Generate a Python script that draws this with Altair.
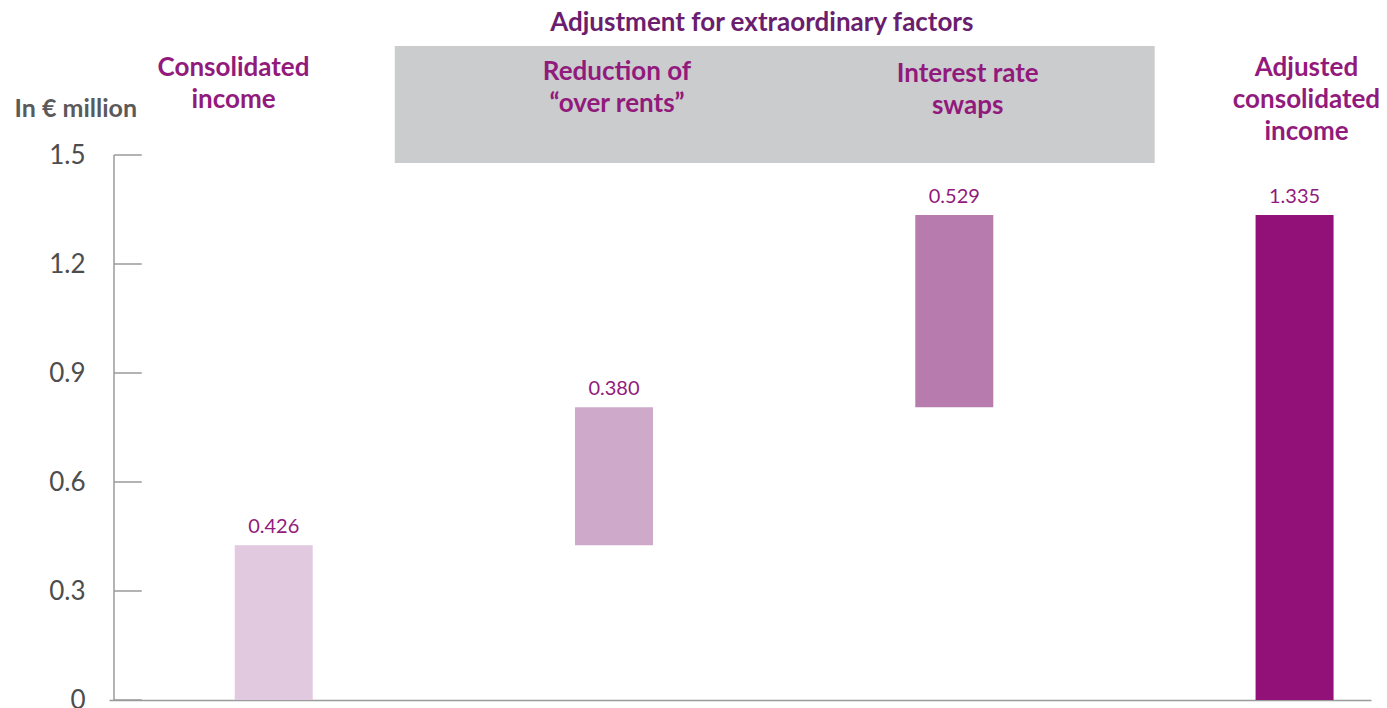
import altair as alt
import pandas as pd

# ---- data ----
categories = ["Consolidated income", "Reduction of \u201cover rents\u201d", "Interest rate swaps", "Adjusted consolidated income"]
starts = [0.0, 0.426, 0.806, 0.0]
ends = [0.426, 0.806, 1.335, 1.335]
value_labels = ["0.426", "0.380", "0.529", "1.335"]
bar_colors = ["#E1C9E0", "#CFA9CA", "#B87BAE", "#921179"]
tick_values = [0, 0.3, 0.6, 0.9, 1.2, 1.5]

header_lines = [
    ["Consolidated", "income"],
    ["Reduction of", "\u201cover rents\u201d"],
    ["Interest rate", "swaps"],
    ["Adjusted", "consolidated", "income"],
]
group_title = "Adjustment for extraordinary factors"

# ---- layout (scale units) ----
PAD_L = 101
PX_PER_Y = 545 / 1.5
PX_PER_X = 343.0
PLOT_H = 692
PLOT_W = 1262
X_MIN = -(270 - (8 + PAD_L)) / PX_PER_X
X_MAX = X_MIN + PLOT_W / PX_PER_X
Y_MAX = PLOT_H / PX_PER_Y

def ypx(py):
    return (700 - py) / PX_PER_Y

def xpx(px):
    return (px - 270) / PX_PER_X

header_x = [xpx(229.5), xpx(616), xpx(969.5), xpx(1311)]
header_y0 = [68, 72, 74, 68]
LINE_H = 32

bars = pd.DataFrame({
    "pos": list(range(len(categories))),
    "cat": categories,
    "start": starts,
    "end": ends,
    "label": value_labels,
    "color": bar_colors,
})

hdr_rows = []
for i, lines in enumerate(header_lines):
    for j, t in enumerate(lines):
        hdr_rows.append({"x": header_x[i], "y": ypx(header_y0[i] + j * LINE_H), "t": t})
hdr = pd.DataFrame(hdr_rows)

xs = alt.Scale(domain=[X_MIN, X_MAX], nice=False, zero=False)
ys = alt.Scale(domain=[0, Y_MAX], nice=False, zero=False)

FONT = "Lato"
PURPLE = "#921A7C"

box = alt.Chart(pd.DataFrame({"x": [xpx(392)], "x2": [xpx(1158)], "y": [ypx(163)], "y2": [ypx(46)]})).mark_rect(
    color="#CBCCCE"
).encode(
    x=alt.X("x:Q", scale=xs, axis=alt.Axis(labels=False, ticks=False, grid=False, domain=True,
                                           domainColor="#9a9a9a", domainWidth=1.5, title=None)),
    x2="x2:Q",
    y=alt.Y("y:Q", scale=ys, axis=alt.Axis(
        values=tick_values, format=".1~f", labelFontSize=26, labelColor="#4d4d4d", labelFont=FONT,
        ticks=False, domain=False, grid=False, labelPadding=24,
        title="In \u20ac million", titleAngle=0, titleX=-95, titleY=100, titleAlign="left",
        titleBaseline="middle", titleFontSize=25, titleFont=FONT, titleFontWeight="bold",
        titleColor="#5a5a5a")),
    y2="y2:Q",
)

axis_line = alt.Chart(pd.DataFrame({"x": [X_MIN], "y": [0.0], "y2": [1.5]})).mark_rule(
    color="#9a9a9a", strokeWidth=1.5
).encode(x=alt.X("x:Q", scale=xs), y=alt.Y("y:Q", scale=ys), y2="y2:Q")

ticks = alt.Chart(pd.DataFrame({"y": tick_values, "x": [X_MIN] * len(tick_values),
                                "x2": [X_MIN + 28 / PX_PER_X] * len(tick_values)})).mark_rule(
    color="#9a9a9a", strokeWidth=1.5
).encode(x=alt.X("x:Q", scale=xs), x2="x2:Q", y=alt.Y("y:Q", scale=ys))

bar = alt.Chart(bars).mark_bar(width=78).encode(
    x=alt.X("pos:Q", scale=xs),
    y=alt.Y("start:Q", scale=ys),
    y2="end:Q",
    color=alt.Color("color:N", scale=None),
)

vals = alt.Chart(bars).mark_text(font=FONT, fontSize=20, color=PURPLE, baseline="alphabetic", dy=-12).encode(
    x=alt.X("pos:Q", scale=xs),
    y=alt.Y("end:Q", scale=ys),
    text="label:N",
)

heads = alt.Chart(hdr).mark_text(font=FONT, fontSize=26, fontWeight="bold", color=PURPLE, baseline="middle").encode(
    x=alt.X("x:Q", scale=xs),
    y=alt.Y("y:Q", scale=ys),
    text="t:N",
)

title = alt.Chart(pd.DataFrame({"x": [xpx(762)], "y": [ypx(23)], "t": [group_title]})).mark_text(
    font=FONT, fontSize=26, fontWeight="bold", color="#6B1E6E", baseline="middle"
).encode(x=alt.X("x:Q", scale=xs), y=alt.Y("y:Q", scale=ys), text="t:N")

chart = alt.layer(box, axis_line, ticks, bar, vals, heads, title).properties(
    width=PLOT_W, height=PLOT_H,
    autosize=alt.AutoSizeParams(type="none"),
    padding={"left": PAD_L, "top": 0, "right": 8, "bottom": 16},
).configure_view(stroke=None)

chart.save("out.html", embed_options={"renderer": "svg", "actions": False})
